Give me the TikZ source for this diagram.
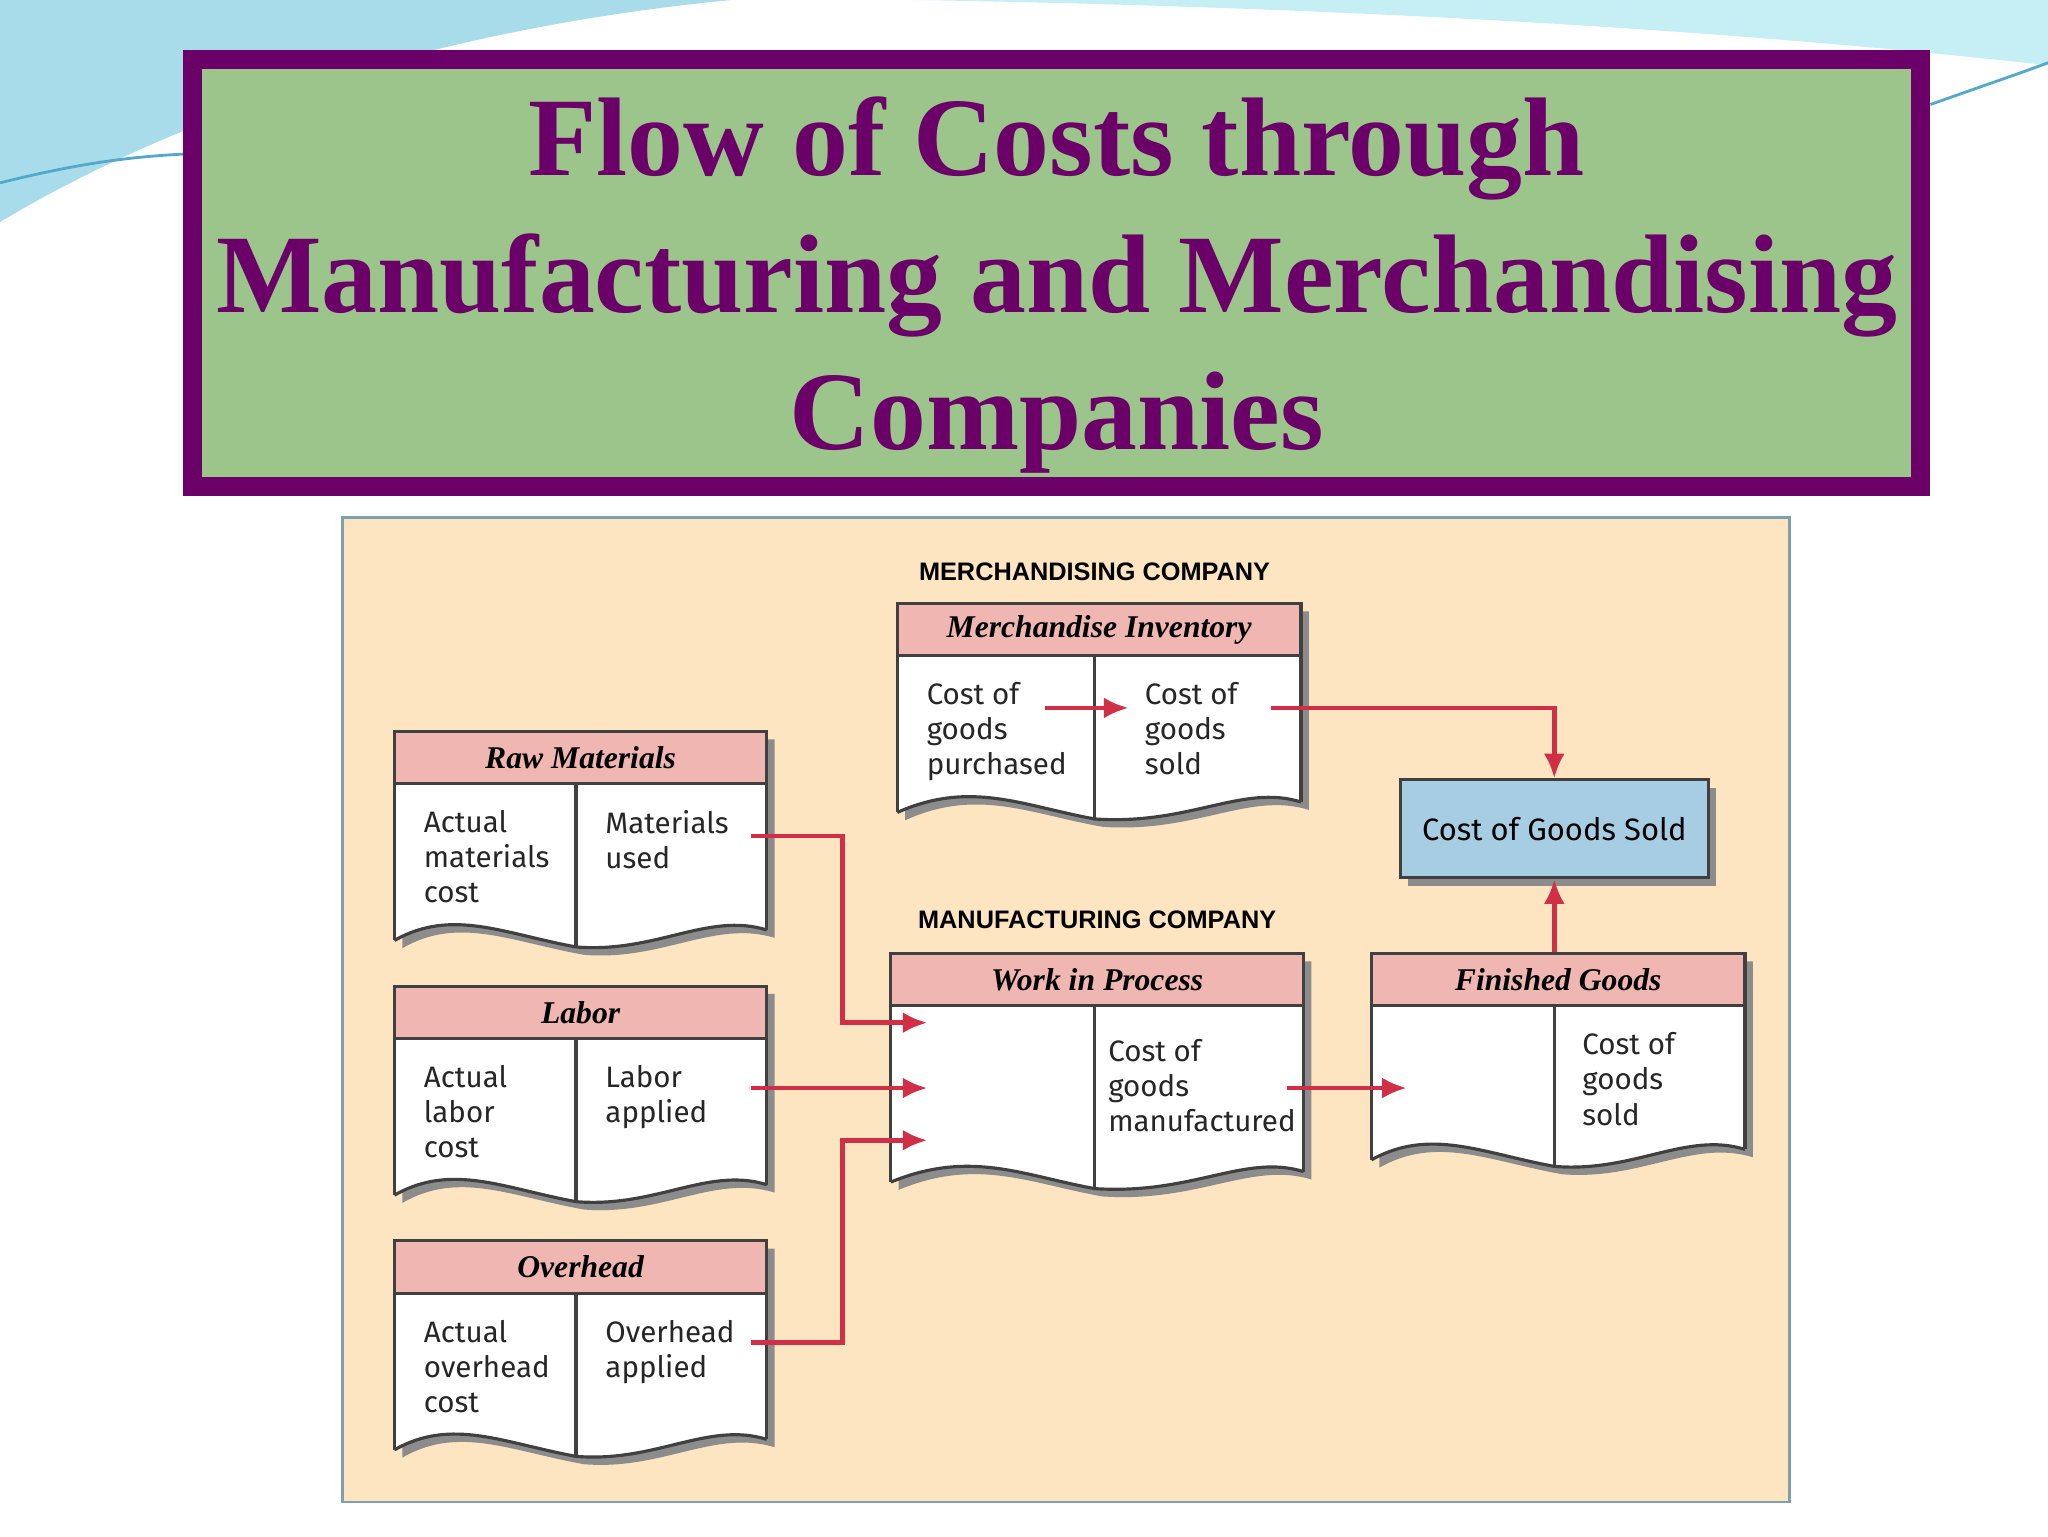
\documentclass[tikz,border=0pt]{standalone}
\usepackage{fontspec}
\setmainfont{Liberation Serif}
\newfontfamily\accf{Fira Sans}
\newfontfamily\capf{Liberation Sans}
\definecolor{ttlpurple}{HTML}{6A0068}
\definecolor{ttlgreen}{HTML}{9CC58B}
\definecolor{panel}{HTML}{FCE5C0}
\definecolor{hdr}{HTML}{EFB6B2}
\definecolor{arrred}{HTML}{D02F45}
\definecolor{cogs}{HTML}{A6CDE2}
\definecolor{swA}{HTML}{A9DCEB}
\definecolor{swB}{HTML}{C6EEF5}
\tikzset{
  acc/.style={font=\accf\fontsize{8.4}{10}\selectfont, align=left, inner sep=0pt, text=black!85},
  hdrtext/.style={font=\bfseries\itshape\fontsize{9}{11}\selectfont, inner sep=0pt},
  caplabel/.style={font=\capf\bfseries\fontsize{7.2}{9}\selectfont, inner sep=0pt},
  arr/.style={draw=arrred, line width=1.3pt, -{Latex[length=7pt,width=6pt]}},
  frame/.style={draw=black!75, line width=0.9pt}
}
\usetikzlibrary{arrows.meta}
\newcommand\tacct[9]{%
  \fill[black!45] ({#2+6},{#5+6}) -- ({#4+6},{#5+6}) -- ({#4+6},{#7-2}) .. controls ({#4-40},{#7-16}) and ({#4-80},{#7+16}) .. ({#3+6},{#7+11}) .. controls ({#3-50},{#7+1}) and ({#3-90},{#7-19}) .. ({#2+6},{#7+6}) -- cycle;
  \fill[white] (#2,#5) -- (#4,#5) -- ({#4},{#7-8}) .. controls ({#4-45},{#7-22}) and ({#4-85},{#7+10}) .. ({#3},{#7+5}) .. controls ({#3-55},{#7-5}) and ({#3-95},{#7-25}) .. ({#2},{#7}) -- cycle;
  \draw[frame] ({#4},{#7-8}) .. controls ({#4-45},{#7-22}) and ({#4-85},{#7+10}) .. ({#3},{#7+5}) .. controls ({#3-55},{#7-5}) and ({#3-95},{#7-25}) .. ({#2},{#7});
  \fill[hdr] (#2,#5) rectangle (#4,#6);
  \draw[frame] ({#2},{#7}) -- (#2,#5) -- (#4,#5) -- ({#4},{#7-8});
  \draw[frame] (#2,#6) -- (#4,#6);
  \draw[frame] (#3,#6) -- ({#3},{#7+5});
  \node[hdrtext] (#1t) at ({(#2+#4)/2},{(#5+#6)/2}) {#8};
  \node[acc,anchor=north west] (#1L) at ({#2+22},{#6+20}) {#9};
}
\begin{document}
\begin{tikzpicture}[x=0.1306mm,y=-0.1306mm]
\useasboundingbox (0,0) rectangle (1568,1176);
\fill[white] (0,0) rectangle (1568,1176);
% decorative swooshes
\fill[swA] (0,0) -- (560,0) .. controls (350,20) and (150,80) .. (0,170) -- cycle;
\fill[swB] (700,0) -- (1568,0) -- (1568,50) .. controls (1300,20) and (1000,5) .. (700,0) -- cycle;
\draw[cyan!60!gray, line width=0.8pt] (0,140) .. controls (60,125) and (100,120) .. (140,118);
\draw[cyan!60!gray, line width=0.8pt] (1478,80) .. controls (1520,65) and (1550,55) .. (1568,48);
% title
\node[draw=ttlpurple, line width=5.5pt, fill=ttlgreen, minimum width=1323*0.1306mm, minimum height=327*0.1306mm, inner sep=0pt] (title) at (809,209) {};
\node[text=ttlpurple, font=\bfseries\fontsize{31.8}{39}\selectfont, align=center] (titletext) at (809,218) {Flow of Costs through\\Manufacturing and Merchandising\\Companies};
% panel
\fill[panel, draw=cyan!30!gray, line width=0.8pt] (262,396) rectangle (1370,1150);
\node[caplabel] (mclab) at (838,438) {MERCHANDISING COMPANY};
\node[caplabel] (mflab) at (840,704) {MANUFACTURING COMPANY};
% T accounts
\tacct{rm}{302}{441}{587}{560}{600}{720}{Raw Materials}{Actual\\materials\\cost}
\node[acc,anchor=north west] (rmR) at (463,620) {Materials\\used};
\tacct{lab}{302}{441}{587}{755}{795}{915}{Labor}{Actual\\labor\\cost}
\node[acc,anchor=north west] (labR) at (463,815) {Labor\\applied};
\tacct{oh}{302}{441}{587}{950}{990}{1110}{Overhead}{Actual\\overhead\\cost}
\node[acc,anchor=north west] (ohR) at (463,1010) {Overhead\\applied};
\tacct{mi}{687}{838}{996}{462}{502}{622}{Merchandise Inventory}{Cost of\\goods\\purchased}
\node[acc,anchor=north west] (miR) at (876,522) {Cost of\\goods\\sold};
\tacct{wip}{682}{838}{998}{730}{770}{905}{Work in Process}{}
\node[acc,anchor=north west] (wipR) at (848,795) {Cost of\\goods\\manufactured};
\tacct{fg}{1050}{1190}{1336}{730}{770}{888}{Finished Goods}{}
\node[acc,anchor=north west] (fgR) at (1211,790) {Cost of\\goods\\sold};
% COGS box
\fill[black!45] (1078,603) rectangle (1314,678);
\node[draw=black!75, line width=0.9pt, fill=cogs, minimum width=236*0.1306mm, minimum height=75*0.1306mm, font=\accf\fontsize{8.8}{11}\selectfont] (cogs) at (1190,634.5) {Cost of Goods Sold};
% connector coordinates
\coordinate (rmo) at (575,640);
\coordinate (labo) at (575,833);
\coordinate (oho) at (575,1028);
\coordinate (w1) at (710,783);
\coordinate (w2) at (710,833);
\coordinate (w3) at (710,873);
\coordinate (mio) at (800,542);
\coordinate (mii) at (864,542);
\coordinate (mio2) at (973,542);
\coordinate (wipo) at (985,833);
\coordinate (fgi) at (1077,833);
\coordinate (fgtop) at (1190,729);
\draw[arr] (rmo) -- (645,640) -- (645,783) -- (w1);
\draw[arr] (labo) -- (w2);
\draw[arr] (oho) -- (645,1028) -- (645,873) -- (w3);
\draw[arr] (mio) -- (mii);
\draw[arr] (mio2) -| (cogs.north);
\draw[arr] (wipo) -- (fgi);
\draw[arr] (fgtop) -- (cogs.south);
\end{tikzpicture}
\end{document}
